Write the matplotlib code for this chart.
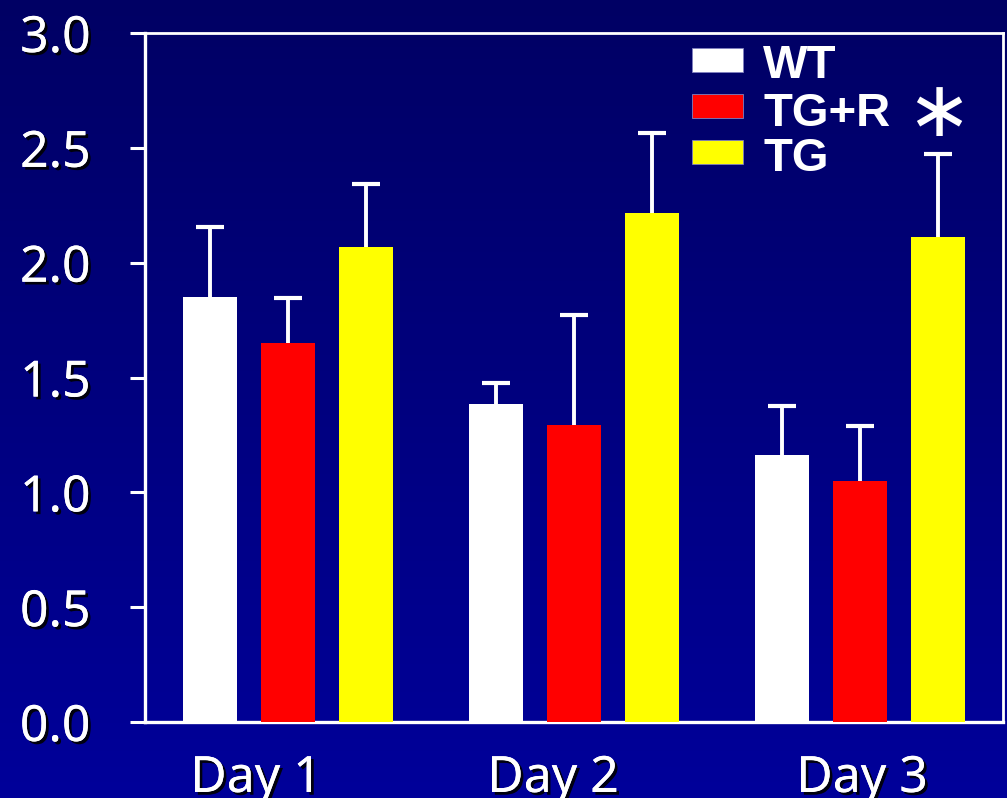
import numpy as np
import matplotlib
matplotlib.use('Agg')
import matplotlib.pyplot as plt
import matplotlib.patheffects as pe
import matplotlib.transforms as mtrans
from matplotlib.patches import Rectangle

# values
days = ['Day 1', 'Day 2', 'Day 3']
groups = ['WT', 'TG+R', 'TG']
wt = [1.85, 1.385, 1.163]
wt_err = [0.305, 0.09, 0.213]
tgr = [1.651, 1.294, 1.05]
tgr_err = [0.196, 0.479, 0.239]
tg = [2.069, 2.217, 2.112]
tg_err = [0.274, 0.348, 0.362]
colors = ['white', '#ff0000', '#ffff00']
yticks = [0.0, 0.5, 1.0, 1.5, 2.0, 2.5, 3.0]

fig = plt.figure(figsize=(10.07, 7.98), dpi=100)

# navy gradient background, darker at the top
bg = fig.add_axes([0, 0, 1, 1], zorder=-10)
grad = np.linspace(0, 1, 256).reshape(-1, 1)
cmap = matplotlib.colors.LinearSegmentedColormap.from_list('navy', ['#000064', '#00009a'])
bg.imshow(grad, aspect='auto', cmap=cmap, extent=[0, 1, 0, 1], origin='upper')
bg.axis('off')

ax = fig.add_axes([0.144, 0.0952, 0.852, 0.8634])
ax.set_facecolor('none')

x = np.arange(len(days))
off = 0.273
w = 0.19
series = [(wt, wt_err), (tgr, tgr_err), (tg, tg_err)]
for i, (vals, errs) in enumerate(series):
    xs = x + (i - 1) * off
    ax.bar(xs, vals, width=w, color=colors[i], zorder=3)
    eb = ax.errorbar(xs, vals, yerr=[np.zeros(len(errs)), errs], fmt='none',
                     ecolor='white', elinewidth=2.8, capsize=10, capthick=3, zorder=2)
    # only the upper cap
    eb[1][0].set_visible(False)

ax.set_xlim(-0.5, 2.5)
ax.set_ylim(0, 3.0)
ax.set_yticks(yticks)
ax.set_yticklabels(['%.1f' % v for v in yticks])
ax.set_xticks(x)
ax.set_xticklabels(days)

for s in ax.spines.values():
    s.set_color('white')
    s.set_linewidth(2)
ax.spines['left'].set_linewidth(2.4)
ax.spines['bottom'].set_linewidth(2.4)

ax.tick_params(axis='y', colors='white', length=11, width=2.2, pad=28, labelsize=36)
ax.tick_params(axis='x', colors='white', length=0, pad=23, labelsize=36)
shadow = [pe.withSimplePatchShadow(offset=(2, -2), shadow_rgbFace='black', alpha=0.9), pe.Normal()]
for lab in ax.get_yticklabels() + ax.get_xticklabels():
    lab.set_fontfamily('Noto Sans')
    lab.set_color('white')
    lab.set_path_effects(shadow)

# day labels sit a little off the group centres on the slide
for lab, dx in zip(ax.get_xticklabels(), [-32, -21, 2]):
    lab.set_transform(lab.get_transform() + mtrans.ScaledTranslation(dx / 100, 0, fig.dpi_scale_trans))

# legend drawn by hand to get the tight slide spacing
W, H = 1007.0, 798.0
for i, g in enumerate(groups):
    top = [48, 94, 140][i]
    fig.add_artist(Rectangle((692 / W, 1 - (top + 24) / H), 51 / W, 24 / H,
                             facecolor=colors[i], edgecolor='#8080c0', linewidth=0.6,
                             transform=fig.transFigure))
    cy = [66, 114, 159][i]
    fig.text(763 / W, 1 - cy / H, g, color='white', fontsize=34, fontweight='bold',
             family='Liberation Sans', ha='left', va='center')

fig.text(939 / W, 1 - 114 / H, '\u2217', color='white', fontsize=56,
         family='DejaVu Sans', ha='center', va='center')

fig.savefig('out.png', dpi=100)
